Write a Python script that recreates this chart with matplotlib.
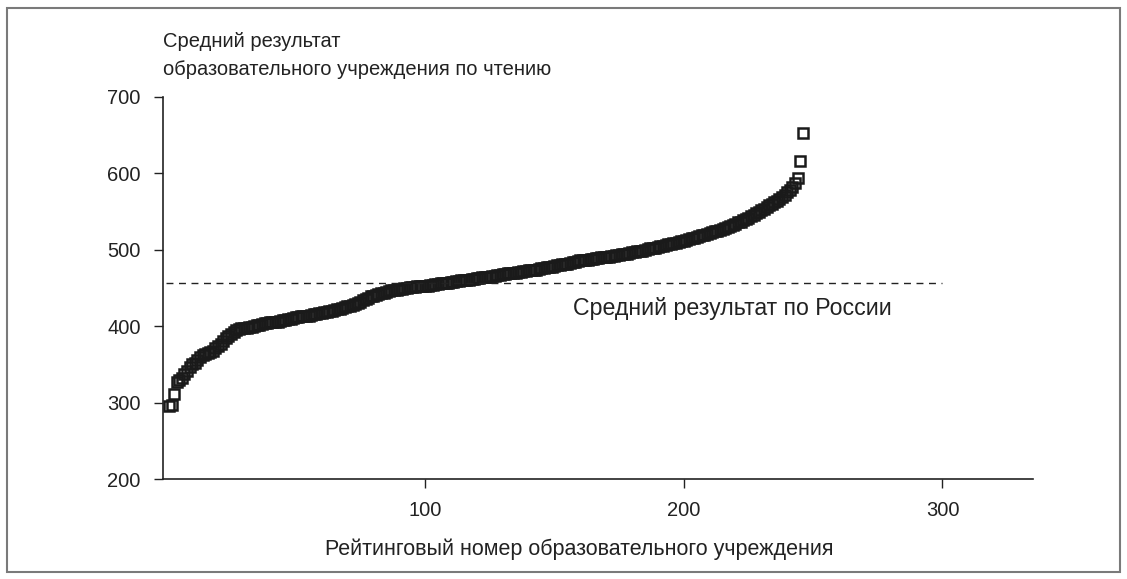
import numpy as np
import matplotlib.pyplot as plt
from matplotlib.patches import Rectangle

plt.rcParams['font.family'] = ['Liberation Sans', 'DejaVu Sans']

# Average reading score of each school, sorted by rank
scores = [
    296, 297, 311, 327, 330, 332, 338, 342, 347, 350,
    352, 356, 360, 362, 363, 365, 366, 368, 371, 374,
    377, 381, 384, 387, 390, 392, 395, 396, 397, 398,
    398, 399, 399, 400, 401, 402, 403, 404, 404, 405,
    405, 406, 406, 407, 408, 408, 409, 410, 411, 412,
    412, 413, 413, 414, 414, 415, 416, 416, 417, 417,
    418, 419, 420, 420, 421, 422, 423, 424, 425, 426,
    427, 428, 429, 430, 432, 434, 436, 437, 439, 440,
    441, 442, 443, 444, 445, 446, 447, 448, 448, 449,
    449, 450, 450, 451, 451, 451, 452, 452, 452, 453,
    453, 454, 454, 455, 455, 456, 456, 457, 457, 458,
    458, 459, 459, 460, 460, 461, 461, 462, 462, 463,
    463, 464, 464, 465, 465, 466, 466, 467, 467, 468,
    468, 469, 469, 470, 470, 471, 471, 472, 472, 473,
    473, 474, 474, 475, 476, 476, 477, 478, 478, 479,
    480, 480, 481, 482, 482, 483, 484, 484, 485, 486,
    486, 487, 487, 488, 488, 489, 489, 490, 490, 491,
    491, 492, 492, 493, 493, 494, 495, 495, 496, 497,
    497, 498, 499, 499, 500, 501, 502, 502, 503, 504,
    505, 505, 506, 507, 508, 509, 509, 510, 511, 512,
    513, 514, 515, 516, 517, 518, 519, 520, 521, 522,
    523, 524, 525, 526, 527, 529, 530, 531, 533, 534,
    536, 537, 539, 540, 542, 544, 546, 548, 550, 552,
    554, 556, 558, 560, 562, 564, 567, 569, 572, 575,
    578, 582, 588, 594, 616, 653,
]
ranks = np.arange(1, len(scores) + 1)

russia_mean = 457
x_ticks = [100, 200, 300]
y_ticks = [200, 300, 400, 500, 600, 700]

fig = plt.figure(figsize=(11.27, 5.79), dpi=100)
ax = fig.add_axes([0.1446, 0.1727, 0.7720, 0.6598])

# outer frame
fig.patches.append(Rectangle((0.0065, 0.012), 0.987, 0.974, transform=fig.transFigure,
                             fill=False, edgecolor='#7a7a7a', linewidth=1.5))

ax.plot(ranks, scores, 's', mfc='none', mec='#1a1a1a', ms=6.5, mew=1.8)

# national average
ax.plot([0, 300], [russia_mean, russia_mean], color='#222222', lw=1.0,
        dashes=(5, 4))
ax.text(157, 423, 'Средний результат по России', fontsize=16.7,
        va='center', ha='left', color='#222222')

ax.set_xlim(-1.3, 335)
ax.set_ylim(200, 700)
ax.set_xticks(x_ticks)
ax.set_yticks(y_ticks)
ax.spines['top'].set_visible(False)
ax.spines['right'].set_visible(False)
for s in ['left', 'bottom']:
    ax.spines[s].set_color('#222222')
    ax.spines[s].set_linewidth(1.2)
ax.tick_params(axis='both', direction='out', length=6.5, width=1.0,
               colors='#222222', labelsize=14.5)
ax.tick_params(axis='x', pad=9)
ax.tick_params(axis='y', pad=9.5)

fig.text(0.1446, 0.9188, 'Средний результат', fontsize=14.5, va='baseline',
         color='#222222')
fig.text(0.1446, 0.8705, 'образовательного учреждения по чтению', fontsize=14.5,
         va='baseline', color='#222222')
ax.set_xlabel('Рейтинговый номер образовательного учреждения', fontsize=15.5,
              color='#222222')
ax.xaxis.set_label_coords(0.479, -0.155)

fig.savefig('out.png', dpi=100)
